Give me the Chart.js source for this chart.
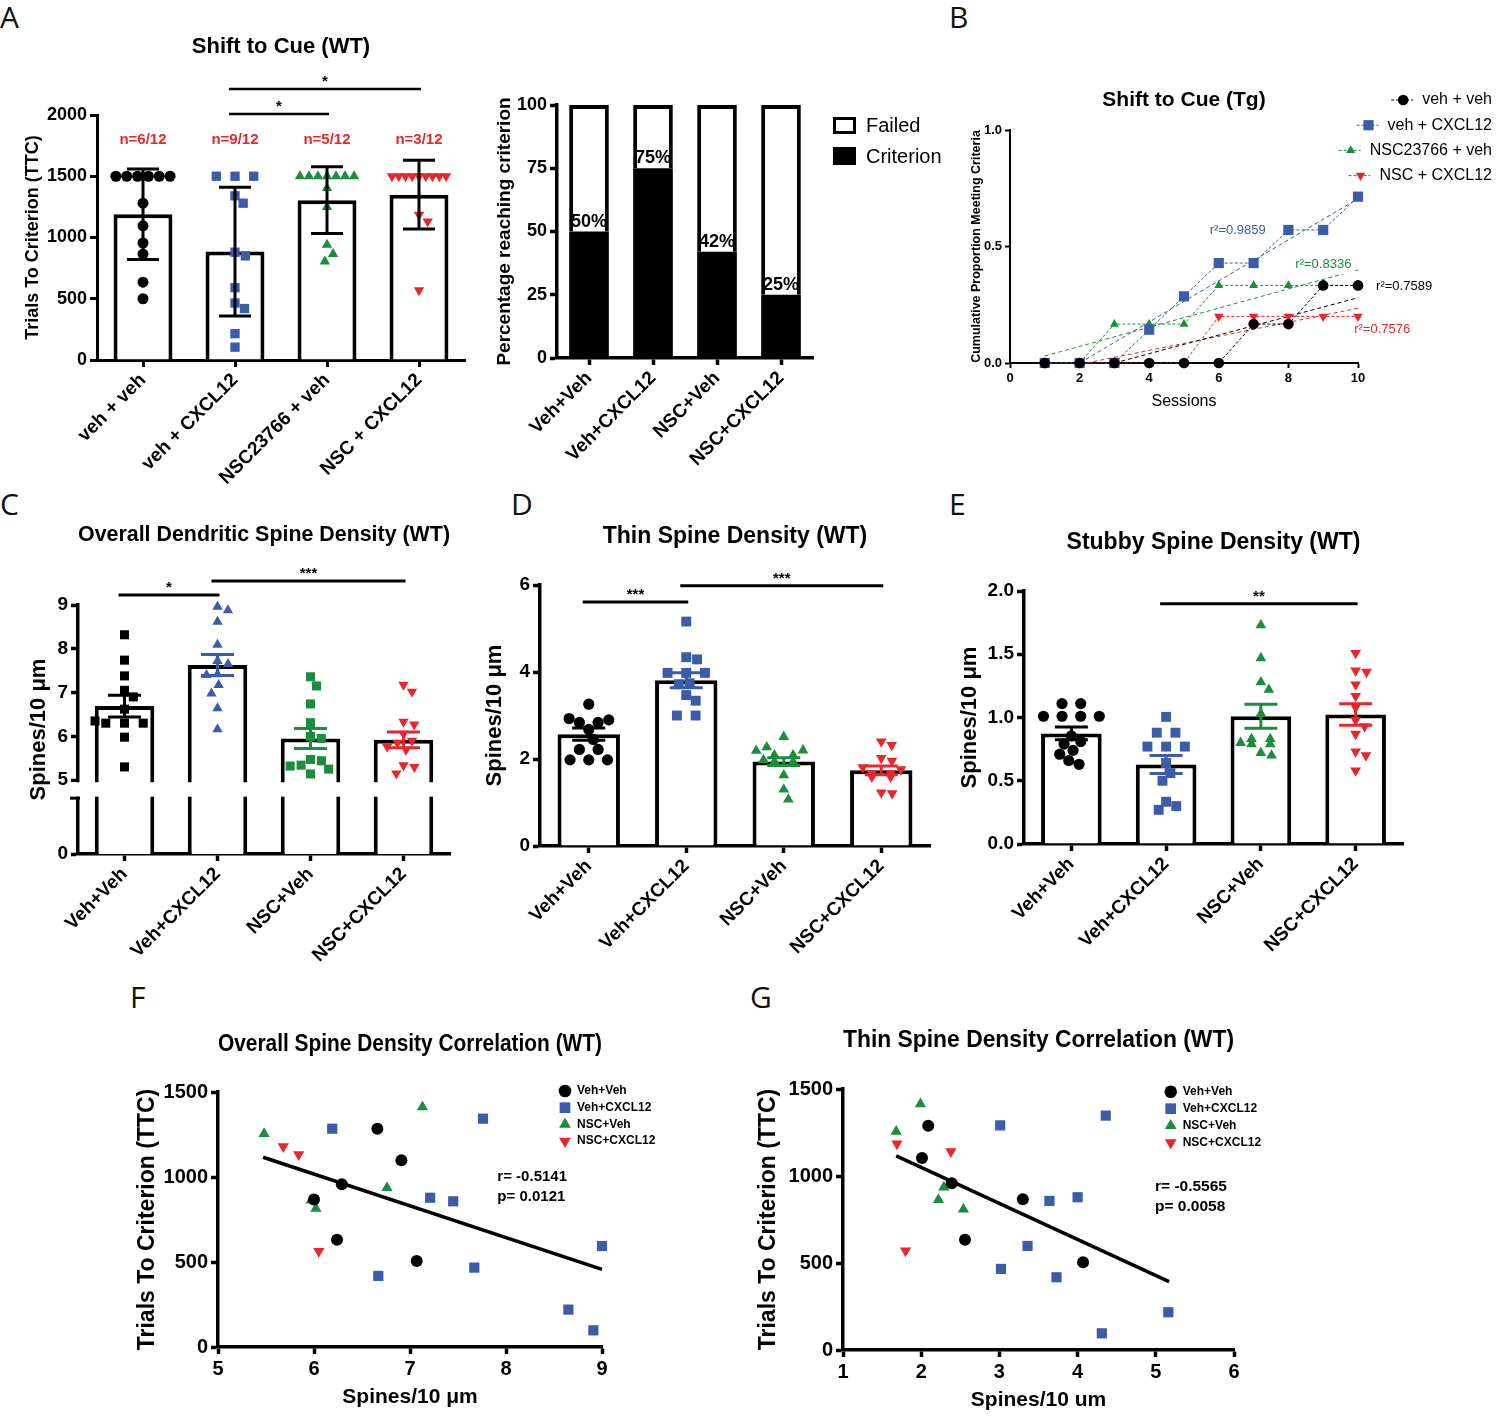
<!DOCTYPE html>
<html>
<head>
<meta charset="utf-8">
<title>Shift to cue and spine density</title>
<script src="https://cdn.jsdelivr.net/npm/chart.js@4.4.1/dist/chart.umd.min.js"></script>
<style>
  html, body { margin: 0; padding: 0; background: #fff; }
  #page { position: relative; width: 1500px; height: 1420px; overflow: hidden; background: #fff; }
  #page canvas { position: absolute; left: 0; top: 0; }
  .tag { position: absolute; font: 30px "Open Sans", "Liberation Sans", sans-serif; line-height: 30px; color: #111; }
</style>
</head>
<body>
<div id="page">
  <div class="tag" style="left:0px;top:2px">A</div>
  <div class="tag" style="left:949px;top:2px">B</div>
  <div class="tag" style="left:0px;top:489px">C</div>
  <div class="tag" style="left:511px;top:489px">D</div>
  <div class="tag" style="left:949px;top:489px">E</div>
  <div class="tag" style="left:130px;top:982px">F</div>
  <div class="tag" style="left:750px;top:982px">G</div>
  <canvas id="chartA1" width="1500" height="1420"></canvas>
  <canvas id="chartA2" width="1500" height="1420"></canvas>
  <canvas id="chartB" width="1500" height="1420"></canvas>
  <canvas id="chartC" width="1500" height="1420"></canvas>
  <canvas id="chartD" width="1500" height="1420"></canvas>
  <canvas id="chartE" width="1500" height="1420"></canvas>
  <canvas id="chartF" width="1500" height="1420"></canvas>
  <canvas id="chartG" width="1500" height="1420"></canvas>
</div>
<script>
var FONT = "'Liberation Sans', Arial, Helvetica, sans-serif";
Chart.defaults.font.family = FONT;
Chart.defaults.color = '#000';
Chart.defaults.animation = false;
Chart.defaults.responsive = false;
Chart.defaults.events = [];
Chart.defaults.plugins.legend.display = false;
Chart.defaults.plugins.tooltip.enabled = false;

var PAGE_W = 1500, PAGE_H = 1420;

// ---------- data ----------
var groupsWT = ['veh + veh', 'veh + CXCL12', 'NSC23766 + veh', 'NSC + CXCL12'];
var groups = ['Veh+Veh', 'Veh+CXCL12', 'NSC+Veh', 'NSC+CXCL12'];
var groupColors = ['#000000', '#3b5ca9', '#1b8e3e', '#e8262b'];

// A: trials to criterion (1500 = failed)
var ttcVehVeh = [1500, 1500, 1500, 1500, 1500, 1500, 1280, 1095, 955, 865, 635, 500];
var ttcVehCx = [1500, 1500, 1500, 1340, 1280, 880, 850, 590, 465, 420, 215, 105];
var ttcNscVeh = [1500, 1500, 1500, 1500, 1500, 1500, 1500, 1405, 1250, 940, 865, 805];
var ttcNscCx = [1500, 1500, 1500, 1500, 1500, 1500, 1500, 1500, 1500, 1185, 1130, 570];
var ttcMean = [1190, 885, 1305, 1350];
var ttcSd = [370, 526, 273, 281];
var ttcReached = ['n=6/12', 'n=9/12', 'n=5/12', 'n=3/12'];

// A: percentage reaching criterion
var pctCriterion = [50, 75, 42, 25];
var pctFailed = [50, 25, 58, 75];

// B: cumulative proportion, Tg
var sessions = [1, 2, 3, 4, 5, 6, 7, 8, 9, 10];
var cumVehVeh = [0, 0, 0, 0, 0, 0, 0.167, 0.167, 0.333, 0.333];
var cumVehCx = [0, 0, 0, 0.143, 0.286, 0.429, 0.429, 0.571, 0.571, 0.714];
var cumNscVeh = [0, 0, 0.167, 0.167, 0.167, 0.333, 0.333, 0.333, 0.333, 0.333];
var cumNscCx = [0, 0, 0, 0, 0, 0.2, 0.2, 0.2, 0.2, 0.2];
var fitVehVeh = [[3, 0], [10, 0.28]];
var fitVehCx = [[2, 0], [10, 0.705]];
var fitNscVeh = [[1, 0.03], [10, 0.4]];
var fitNscCx = [[2.2, 0], [10, 0.235]];
var r2Text = ['r²=0.7589', 'r²=0.9859', 'r²=0.8336', 'r²=0.7576'];

// C: overall spine density
var cVehVeh = [8.32, 7.74, 7.38, 7.05, 6.9, 6.62, 6.35, 6.3, 6.3, 6.3, 5.98, 5.3];
var cVehCx = [8.88, 8.96, 8.62, 8.09, 7.65, 7.72, 7.42, 7.4, 7.17, 6.98, 6.64, 6.16];
var cNscVeh = [7.36, 7.15, 6.74, 6.31, 5.95, 6.0, 5.34, 5.14, 5.47, 5.32, 5.25, 5.44];
var cNscCx = [7.18, 7.02, 6.27, 6.33, 6.06, 5.85, 5.76, 5.69, 5.34, 5.3, 5.15, 5.9];
var cMean = [6.69, 7.63, 5.95, 5.92];
var cSem = [0.25, 0.24, 0.23, 0.18];

// D: thin spine density
var dVehVeh = [3.26, 2.93, 2.9, 2.84, 2.84, 2.68, 2.45, 2.22, 2.22, 1.98, 1.98, 1.98];
var dVehCx = [5.16, 4.34, 4.29, 3.98, 3.98, 3.98, 3.74, 3.72, 3.47, 3.34, 3.0, 3.0];
var dNscVeh = [2.51, 2.2, 2.27, 2.19, 2.09, 2.09, 1.98, 1.94, 1.94, 1.63, 1.3, 1.07];
var dNscCx = [2.4, 2.32, 2.02, 1.96, 1.76, 1.81, 1.67, 1.59, 1.67, 1.59, 1.21, 1.23];
var dMean = [2.57, 3.81, 1.94, 1.74];
var dSem = [0.14, 0.17, 0.09, 0.1];

// E: stubby spine density
var eVehVeh = [1.11, 1.11, 1.01, 1.01, 1.01, 1.01, 0.855, 0.79, 0.81, 0.74, 0.71, 0.63, 0.66];
var eVehCx = [1.005, 0.88, 0.88, 0.77, 0.77, 0.77, 0.64, 0.56, 0.5, 0.334, 0.27, 0.3];
var eNscVeh = [1.73, 1.47, 1.28, 1.22, 1.03, 0.83, 0.83, 0.79, 0.8, 0.79, 0.7, 0.72];
var eNscCx = [1.51, 1.36, 1.37, 1.26, 1.17, 1.08, 0.98, 0.93, 0.87, 0.73, 0.7, 0.58];
var eMean = [0.874, 0.629, 1.01, 1.024];
var eSem = [0.05, 0.071, 0.095, 0.085];

// F: overall density vs TTC  [spines, trials]
var fVehVeh = [[6.0, 867], [6.29, 957], [6.24, 631], [6.66, 1284], [6.91, 1098], [7.07, 506]];
var fVehCx = [[6.19, 1284], [6.67, 418], [7.21, 878], [7.45, 857], [7.76, 1343], [7.67, 467], [8.65, 220], [8.91, 98], [9.0, 594]];
var fNscVeh = [[5.48, 1255], [5.97, 863], [6.02, 814], [6.76, 937], [7.13, 1412]];
var fNscCx = [[5.68, 1180], [5.84, 1133], [6.05, 563]];
var fFit = [[5.47, 1116], [9.0, 457]];
var fStats = ['r= -0.5141', 'p= 0.0121'];

// G: thin density vs TTC
var gVehVeh = [[2.09, 1289], [2.01, 1103], [2.39, 959], [2.56, 633], [3.3, 867], [4.07, 504]];
var gVehCx = [[3.01, 1291], [4.36, 1347], [3.64, 857], [4.0, 878], [3.36, 598], [3.02, 466], [3.73, 418], [4.31, 96], [5.16, 217]];
var gNscVeh = [[1.68, 1256], [1.99, 1414], [2.29, 936], [2.22, 863], [2.54, 809]];
var gNscCx = [[1.69, 1185], [2.38, 1141], [1.8, 570]];
var gFit = [[1.68, 1116], [5.17, 393]];
var gStats = ['r= -0.5565', 'p= 0.0058'];

// ---------- marker styles ----------
var markA = [{style: 'circle', r: 5.5}, {style: 'rect', r: 6.6}, {style: 'triangle', r: 6}, {style: 'triangle', r: 6, rot: 180}];
var markC = [{style: 'rect', r: 6.4}, {style: 'triangle', r: 6}, {style: 'rect', r: 6.4}, {style: 'triangle', r: 6, rot: 180}];
var markD = [{style: 'circle', r: 5.6}, {style: 'rect', r: 7}, {style: 'triangle', r: 6.2}, {style: 'triangle', r: 6.2, rot: 180}];
var markB = [{style: 'circle', r: 5.3}, {style: 'rect', r: 7.2}, {style: 'triangle', r: 5.2}, {style: 'triangle', r: 5.5, rot: 180}];
var markF = [{style: 'circle', r: 6}, {style: 'rect', r: 7.2}, {style: 'triangle', r: 6.5}, {style: 'triangle', r: 6.5, rot: 180}];

// ---------- helpers ----------
// padding so that the plot area lands on the wanted rectangle of the page
function frame(plot, axW, axH, title) {
  var top = plot.t, t = {display: false};
  if (title) {
    var lh = title.size * 1.2;
    top = title.y - lh / 2;
    t = {display: true, text: title.text, fullSize: false, color: '#000',
         font: {size: title.size, weight: 'bold'}, padding: {top: 0, bottom: plot.t - top - lh}};
  }
  return {
    layout: {padding: {left: plot.l - axW, top: top, right: PAGE_W - plot.r, bottom: PAGE_H - plot.b - axH}},
    title: t
  };
}

function linAxis(o) {
  var ax = {
    type: 'linear', min: o.min, max: o.max, offset: false,
    afterFit: function (s) { if (o.axW) s.width = o.axW; if (o.axH) s.height = o.axH; },
    ticks: {stepSize: o.step, autoSkip: false, padding: 3, color: '#000',
            font: {size: o.size, weight: 'bold'},
            callback: o.fmt || function (v) { return String(v); }},
    grid: {drawOnChartArea: false, tickLength: o.tick || 7, tickWidth: o.lw, color: '#000'},
    border: {color: '#000', width: o.lw},
    title: {display: !!o.title, text: o.title || '', color: '#000', padding: 0,
            font: {size: o.titleSize || 12, weight: o.titleWeight || 'bold'}}
  };
  if (o.ticksAt) {
    ax.afterBuildTicks = function (s) { s.ticks = o.ticksAt.map(function (v) { return {value: v}; }); };
  }
  return ax;
}

function groupAxis(labels, size, axH, lw) {
  return {
    type: 'category', labels: labels, offset: true,
    afterFit: function (s) { s.height = axH; },
    ticks: {font: {size: size, weight: 'bold'}, color: '#000', minRotation: 45, maxRotation: 45, autoSkip: false, padding: 2},
    grid: {offset: false, drawOnChartArea: false, tickLength: 7, tickWidth: lw, color: '#000'},
    border: {color: '#000', width: lw}
  };
}

// spread points sideways so markers do not sit on top of each other
function swarm(vals, pxPerUnit, d, span) {
  var off = [], placed = [], count = {}, seen = {};
  vals.forEach(function (v) { count[v] = (count[v] || 0) + 1; });
  vals.forEach(function (v, k) {
    if (count[v] < 2) return;
    var s = Math.min(span / (count[v] - 1), d * 1.7);
    var j = seen[v] || 0; seen[v] = j + 1;
    off[k] = (j - (count[v] - 1) / 2) * s;
    placed.push({x: off[k], y: v * pxPerUnit});
  });
  var rest = [];
  vals.forEach(function (v, k) { if (count[v] < 2) rest.push(k); });
  rest.sort(function (a, b) { return vals[b] - vals[a]; });
  rest.forEach(function (k) {
    var y = vals[k] * pxPerUnit, cand = [0];
    placed.forEach(function (q) {
      var dy = Math.abs(q.y - y);
      if (dy < d) { var dx = Math.sqrt(d * d - dy * dy); cand.push(q.x + dx, q.x - dx); }
    });
    cand.sort(function (a, b) { return Math.abs(a) - Math.abs(b); });
    var f = cand.find(function (x) {
      return placed.every(function (q) { var dx = q.x - x, dy = q.y - y; return dx * dx + dy * dy >= d * d - 0.01; });
    });
    off[k] = f === undefined ? 0 : f;
    placed.push({x: off[k], y: y});
  });
  return off;
}

function drawMark(ctx, m, x, y, color) {
  ctx.fillStyle = color;
  ctx.beginPath();
  if (m.style === 'circle') {
    ctx.arc(x, y, m.r, 0, Math.PI * 2);
  } else if (m.style === 'rect') {
    var s = m.r * Math.SQRT1_2;
    ctx.rect(x - s, y - s, 2 * s, 2 * s);
  } else {
    var dir = m.rot ? -1 : 1;
    ctx.moveTo(x, y - dir * m.r);
    ctx.lineTo(x + m.r * 0.866, y + dir * m.r * 0.5);
    ctx.lineTo(x - m.r * 0.866, y + dir * m.r * 0.5);
    ctx.closePath();
  }
  ctx.fill();
}

function errorBars(means, errs, colors, cap, lw) {
  return {id: 'errorBars', afterDatasetsDraw: function (chart) {
    var ctx = chart.ctx, xs = chart.scales.x, ys = chart.scales.y;
    ctx.save();
    ctx.lineWidth = lw;
    means.forEach(function (m, i) {
      var x = xs.getPixelForValue(i), lo = ys.getPixelForValue(m - errs[i]), hi = ys.getPixelForValue(m + errs[i]);
      ctx.strokeStyle = colors[i];
      ctx.beginPath();
      ctx.moveTo(x, lo); ctx.lineTo(x, hi);
      ctx.moveTo(x - cap / 2, lo); ctx.lineTo(x + cap / 2, lo);
      ctx.moveTo(x - cap / 2, hi); ctx.lineTo(x + cap / 2, hi);
      ctx.stroke();
    });
    ctx.restore();
  }};
}

function sigBars(list, size, lw) {
  return {id: 'sigBars', afterDraw: function (chart) {
    var ctx = chart.ctx, xs = chart.scales.x, ys = chart.scales.y;
    ctx.save();
    ctx.strokeStyle = '#000'; ctx.fillStyle = '#000'; ctx.lineWidth = lw;
    ctx.font = 'bold ' + size + 'px ' + FONT;
    ctx.textAlign = 'center'; ctx.textBaseline = 'alphabetic';
    list.forEach(function (s) {
      var x0 = xs.getPixelForValue(s.from) - 6, x1 = xs.getPixelForValue(s.to) + 2, y = ys.getPixelForValue(s.y);
      ctx.beginPath(); ctx.moveTo(x0, y); ctx.lineTo(x1, y); ctx.stroke();
      ctx.fillText(s.text, (x0 + x1) / 2, y - 3);
    });
    ctx.restore();
  }};
}

function textLayer(id, items) {
  return {id: id, afterDraw: function (chart) {
    var ctx = chart.ctx, xs = chart.scales.x, ys = chart.scales.y;
    ctx.save();
    items.forEach(function (t) {
      var x = xs.getPixelForValue(t.x), y = ys.getPixelForValue(t.y) + (t.dy || 0);
      ctx.font = t.font;
      ctx.textAlign = t.align || 'center';
      ctx.textBaseline = t.baseline || 'middle';
      if (t.bg) {
        var w = ctx.measureText(t.text).width;
        ctx.fillStyle = '#fff';
        ctx.fillRect(x - 2, y - 9, w + 4, 18);
      }
      ctx.fillStyle = t.color || '#000';
      ctx.fillText(t.text, x, y);
    });
    ctx.restore();
  }};
}

// bar = mean, dots = animals, error bar, significance lines
function dotBar(id, c) {
  var p = c.plot, n = c.labels.length;
  var catW = (p.r - p.l) / n;
  var pxU = (p.b - p.t) / (c.max - c.min);
  var axW = p.l - c.yTitleX + 0.6 * c.yTitleSize;
  var f = frame(p, axW, c.axH || 130, c.title);
  var ds = [{
    type: 'bar', data: c.means, xAxisID: 'x', yAxisID: 'y', order: 3, grouped: false,
    backgroundColor: '#fff', borderColor: '#000', borderWidth: c.barLine || 4,
    barPercentage: c.barPct || 0.64, categoryPercentage: 1
  }];
  c.points.forEach(function (vals, i) {
    var off = swarm(vals, pxU, c.dot || 11, catW * (c.barPct || 0.64) * 0.92);
    var m = c.marks[i];
    ds.push({
      type: 'scatter', xAxisID: 'x2', yAxisID: 'y', order: 2, clip: false,
      data: vals.map(function (v, k) { return {x: i + off[k] / catW, y: v}; }),
      pointStyle: m.style, pointRotation: m.rot || 0, pointRadius: m.r, pointHoverRadius: m.r,
      pointBackgroundColor: groupColors[i], backgroundColor: groupColors[i], pointBorderWidth: 0
    });
  });
  var yOpt = {min: c.min, max: c.max, step: c.step, size: c.tickSize, lw: c.axisLine, axW: axW,
              title: c.yTitle, titleSize: c.yTitleSize, fmt: c.fmt, ticksAt: c.ticksAt};
  return new Chart(document.getElementById(id), {
    type: 'bar',
    data: {labels: c.labels, datasets: ds},
    options: {
      layout: f.layout,
      plugins: {title: f.title},
      scales: {
        x: groupAxis(c.labels, c.labelSize, c.axH || 130, c.axisLine),
        x2: {type: 'linear', display: false, min: -0.5, max: n - 0.5, offset: false},
        y: linAxis(yOpt)
      }
    },
    plugins: [errorBars(c.means, c.errs, c.errColors, c.cap || 33, c.errLine || 3),
              sigBars(c.sigs, c.starSize || 15, c.sigLine || 3)].concat(c.extra || [])
  });
}

// ---------- A (left): trials to criterion ----------
dotBar('chartA1', {
  plot: {l: 97, r: 465, t: 115, b: 360}, min: 0, max: 2000, step: 500,
  title: {text: 'Shift to Cue (WT)', size: 22, y: 47},
  yTitle: 'Trials To Criterion (TTC)', yTitleSize: 18, yTitleX: 33,
  tickSize: 18, labelSize: 19, labels: groupsWT, axisLine: 3, barLine: 4,
  means: ttcMean, errs: ttcSd, errColors: ['#000', '#000', '#000', '#000'], cap: 32,
  points: [ttcVehVeh, ttcVehCx, ttcNscVeh, ttcNscCx], marks: markA,
  sigs: [{from: 1, to: 2, y: 2008, text: '*'}, {from: 1, to: 3, y: 2212, text: '*'}], sigLine: 2.5,
  extra: [textLayer('reached', ttcReached.map(function (t, i) {
    return {text: t, x: i, y: 1795, font: 'bold 15px ' + FONT, color: '#e8262b'};
  }))]
});

// ---------- A (right): percentage reaching criterion ----------
(function () {
  var p = {l: 557, r: 813, t: 105, b: 358};
  var axW = p.l - 505 + 0.6 * 19;
  var f = frame(p, axW, 130, null);
  var legendA2 = {id: 'legendA2', afterDraw: function (chart) {
    var ctx = chart.ctx, a = chart.chartArea;
    ctx.save();
    ctx.lineWidth = 3; ctx.strokeStyle = '#000';
    ctx.fillStyle = '#fff';
    ctx.fillRect(a.right + 21.5, a.top + 13.5, 20, 14);
    ctx.strokeRect(a.right + 21.5, a.top + 13.5, 20, 14);
    ctx.fillStyle = '#000';
    ctx.fillRect(a.right + 20, a.top + 42, 23, 18);
    ctx.font = '20px ' + FONT; ctx.textAlign = 'left'; ctx.textBaseline = 'middle';
    ctx.fillText('Failed', a.right + 53, a.top + 21);
    ctx.fillText('Criterion', a.right + 53, a.top + 52);
    ctx.restore();
  }};
  new Chart(document.getElementById('chartA2'), {
    type: 'bar',
    data: {
      labels: groups,
      datasets: [
        {label: 'Criterion', data: pctCriterion, backgroundColor: '#000', borderColor: '#000', borderWidth: 0,
         barPercentage: 0.62, categoryPercentage: 1},
        {label: 'Failed', data: pctFailed, backgroundColor: '#fff', borderColor: '#000', borderWidth: 4,
         borderSkipped: 'start', barPercentage: 0.62, categoryPercentage: 1}
      ]
    },
    options: {
      layout: f.layout,
      plugins: {title: f.title},
      scales: {
        x: Object.assign(groupAxis(groups, 19, 130, 3.5), {stacked: true}),
        y: Object.assign(linAxis({min: 0, max: 100, step: 25, size: 18, lw: 3.5, axW: axW,
                                  title: 'Percentage reaching criterion', titleSize: 19}), {stacked: true})
      }
    },
    plugins: [legendA2, textLayer('pct', pctCriterion.map(function (v, i) {
      return {text: v + '%', x: i, y: v, dy: -5, baseline: 'alphabetic', font: 'bold 18px ' + FONT};
    }))]
  });
})();

// ---------- B: shift to cue, Tg ----------
(function () {
  var p = {l: 1010, r: 1358, t: 130, b: 363};
  var axW = p.l - 977 + 0.6 * 12.5;
  var axH = 402 + 0.6 * 16 - p.b;
  var f = frame(p, axW, axH, {text: 'Shift to Cue (Tg)', size: 21, y: 100});
  var series = [cumVehVeh, cumVehCx, cumNscVeh, cumNscCx];
  var fits = [fitVehVeh, fitVehCx, fitNscVeh, fitNscCx];
  var ds = series.map(function (vals, i) {
    var m = markB[i];
    return {
      label: groupsWT[i], showLine: true, clip: false,
      data: sessions.map(function (s, k) { return {x: s, y: vals[k]}; }),
      borderColor: groupColors[i], borderWidth: 1, borderDash: [3, 2],
      pointStyle: m.style, pointRotation: m.rot || 0, pointRadius: m.r, pointHoverRadius: m.r,
      pointBackgroundColor: groupColors[i], pointBorderWidth: 0
    };
  });
  fits.forEach(function (ln, i) {
    ds.push({
      showLine: true, clip: false, pointRadius: 0,
      data: ln.map(function (q) { return {x: q[0], y: q[1]}; }),
      borderColor: groupColors[i], borderWidth: 1, borderDash: [4, 3]
    });
  });
  var legendB = {id: 'legendB', afterDraw: function (chart) {
    var ctx = chart.ctx, a = chart.chartArea;
    ctx.save();
    ctx.font = '16px ' + FONT; ctx.textAlign = 'right'; ctx.textBaseline = 'middle';
    groupsWT.forEach(function (name, i) {
      var y = a.top - 30 + i * 25.2, xr = a.right + 134;
      var mx = xr - ctx.measureText(name).width - 19;
      ctx.strokeStyle = groupColors[i]; ctx.lineWidth = 1; ctx.setLineDash([3, 2]);
      ctx.beginPath(); ctx.moveTo(mx - 12, y); ctx.lineTo(mx + 10, y); ctx.stroke();
      ctx.setLineDash([]);
      drawMark(ctx, markB[i], mx, y, groupColors[i]);
      ctx.fillStyle = '#000';
      ctx.fillText(name, xr, y);
    });
    ctx.restore();
  }};
  var r2 = textLayer('r2', [
    {text: r2Text[1], x: 5.74, y: 0.567, align: 'left', font: '13px ' + FONT, color: groupColors[1]},
    {text: r2Text[2], x: 8.2, y: 0.421, align: 'left', font: '13px ' + FONT, color: groupColors[2], bg: true},
    {text: r2Text[0], x: 10.52, y: 0.328, align: 'left', font: '13px ' + FONT, color: groupColors[0]},
    {text: r2Text[3], x: 9.89, y: 0.143, align: 'left', font: '13px ' + FONT, color: groupColors[3]}
  ]);
  new Chart(document.getElementById('chartB'), {
    type: 'scatter',
    data: {datasets: ds},
    options: {
      layout: f.layout,
      plugins: {title: f.title},
      scales: {
        x: linAxis({min: 0, max: 10, step: 2, size: 13, lw: 2, tick: 5, axH: axH,
                    title: 'Sessions', titleSize: 16, titleWeight: 'normal'}),
        y: linAxis({min: 0, max: 1, step: 0.5, size: 13, lw: 2, tick: 5, axW: axW,
                    title: 'Cumulative Proportion Meeting Criteria', titleSize: 12.5,
                    fmt: function (v) { return v.toFixed(1); }})
      }
    },
    plugins: [r2, legendB]
  });
})();

// ---------- C: overall spine density (broken axis) ----------
var cAxisMin = 3.31;
var cBreak = [4.95, 4.62];
var axisBreakC = {id: 'axisBreak', afterDraw: function (chart) {
  var ctx = chart.ctx, a = chart.chartArea, ys = chart.scales.y;
  var y0 = ys.getPixelForValue(cBreak[0]), y1 = ys.getPixelForValue(cBreak[1]);
  ctx.save();
  ctx.fillStyle = '#fff';
  ctx.fillRect(a.left - 8, y0, a.right - a.left + 16, y1 - y0);
  ctx.strokeStyle = '#000'; ctx.lineWidth = 3;
  ctx.beginPath(); ctx.moveTo(a.left - 8, y1 + 1.5); ctx.lineTo(a.left + 2, y1 + 1.5); ctx.stroke();
  ctx.restore();
}};
dotBar('chartC', {
  plot: {l: 78, r: 450, t: 605, b: 854}, min: cAxisMin, max: 9,
  ticksAt: [cAxisMin, 5, 6, 7, 8, 9],
  fmt: function (v) { return v === cAxisMin ? '0' : String(v); },
  title: {text: 'Overall Dendritic Spine Density (WT)', size: 22.5, y: 535},
  yTitle: 'Spines/10 μm', yTitleSize: 22, yTitleX: 39,
  tickSize: 19, labelSize: 19, labels: groups, axisLine: 3.5,
  means: cMean, errs: cSem, errColors: groupColors,
  points: [cVehVeh, cVehCx, cNscVeh, cNscCx], marks: markC,
  sigs: [{from: 0, to: 1, y: 9.23, text: '*'}, {from: 1, to: 3, y: 9.55, text: '***'}],
  extra: [axisBreakC]
});

// ---------- D: thin spine density ----------
dotBar('chartD', {
  plot: {l: 540, r: 930, t: 585, b: 846}, min: 0, max: 6, step: 2,
  title: {text: 'Thin Spine Density (WT)', size: 23, y: 537},
  yTitle: 'Spines/10 μm', yTitleSize: 22, yTitleX: 495,
  tickSize: 19, labelSize: 19, labels: groups, axisLine: 3.5,
  means: dMean, errs: dSem, errColors: groupColors,
  points: [dVehVeh, dVehCx, dNscVeh, dNscCx], marks: markD,
  sigs: [{from: 0, to: 1, y: 5.61, text: '***'}, {from: 1, to: 3, y: 5.98, text: '***'}]
});

// ---------- E: stubby spine density ----------
dotBar('chartE', {
  plot: {l: 1024, r: 1403, t: 591, b: 844}, min: 0, max: 2, step: 0.5,
  fmt: function (v) { return v.toFixed(1); },
  title: {text: 'Stubby Spine Density (WT)', size: 23, y: 543},
  yTitle: 'Spines/10 μm', yTitleSize: 22, yTitleX: 970,
  tickSize: 19, labelSize: 19, labels: groups, axisLine: 3.5,
  means: eMean, errs: eSem, errColors: groupColors,
  points: [eVehVeh, eVehCx, eNscVeh, eNscCx], marks: markD,
  sigs: [{from: 1, to: 3, y: 1.9, text: '**'}]
});

// ---------- F, G: correlations ----------
function corrChart(id, c) {
  var p = c.plot;
  var axW = p.l - c.yTitleX + 0.6 * 23;
  var axH = c.xTitleY + 0.6 * 21 - p.b;
  var f = frame(p, axW, axH, c.title);
  var ds = c.sets.map(function (pts, i) {
    var m = markF[i];
    return {
      label: groups[i], clip: false,
      data: pts.map(function (q) { return {x: q[0], y: q[1]}; }),
      pointStyle: m.style, pointRotation: m.rot || 0, pointRadius: m.r, pointHoverRadius: m.r,
      pointBackgroundColor: groupColors[i], backgroundColor: groupColors[i], pointBorderWidth: 0
    };
  });
  ds.push({
    showLine: true, clip: false, pointRadius: 0, borderColor: '#000', borderWidth: 3.5,
    data: c.fit.map(function (q) { return {x: q[0], y: q[1]}; })
  });
  var legend = {id: 'corrLegend', afterDraw: function (chart) {
    var ctx = chart.ctx, a = chart.chartArea;
    ctx.save();
    ctx.font = 'bold 12px ' + FONT; ctx.textAlign = 'left'; ctx.textBaseline = 'middle';
    groups.forEach(function (name, i) {
      var x = a.right + c.legend.dx, y = a.top + c.legend.dy + i * c.legend.step;
      var m = {style: markF[i].style, r: markF[i].r * 1.05, rot: markF[i].rot};
      drawMark(ctx, m, x, y, groupColors[i]);
      ctx.fillStyle = '#000';
      ctx.fillText(name, x + 12, y);
    });
    ctx.restore();
  }};
  var stats = textLayer('stats', [
    {text: c.stats[0], x: c.statsAt[0], y: c.statsAt[1], align: 'left', font: 'bold ' + c.statsSize + 'px ' + FONT},
    {text: c.stats[1], x: c.statsAt[0], y: c.statsAt[2], align: 'left', font: 'bold ' + c.statsSize + 'px ' + FONT}
  ]);
  return new Chart(document.getElementById(id), {
    type: 'scatter',
    data: {datasets: ds},
    options: {
      layout: f.layout,
      plugins: {title: f.title},
      scales: {
        x: linAxis({min: c.xMin, max: c.xMax, step: 1, size: 20, lw: 3.5, axH: axH,
                    title: c.xTitle, titleSize: 21}),
        y: linAxis({min: 0, max: 1500, step: 500, size: 20, lw: 3.5, axW: axW,
                    title: 'Trials To Criterion (TTC)', titleSize: 23})
      }
    },
    plugins: [stats, legend]
  });
}

corrChart('chartF', {
  plot: {l: 218, r: 602, t: 1092, b: 1347}, xMin: 5, xMax: 9,
  title: {text: 'Overall Spine Density Correlation (WT)', size: 23, y: 1045},
  yTitleX: 148, xTitleY: 1397, xTitle: 'Spines/10 μm',
  sets: [fVehVeh, fVehCx, fNscVeh, fNscCx], fit: fFit,
  stats: fStats, statsAt: [7.91, 1000, 882], statsSize: 15,
  legend: {dx: -37, dy: -1, step: 16.7}
});

corrChart('chartG', {
  plot: {l: 843, r: 1234, t: 1089, b: 1350}, xMin: 1, xMax: 6,
  title: {text: 'Thin Spine Density Correlation (WT)', size: 23.5, y: 1041},
  yTitleX: 769, xTitleY: 1400, xTitle: 'Spines/10 um',
  sets: [gVehVeh, gVehCx, gNscVeh, gNscCx], fit: gFit,
  stats: gStats, statsAt: [4.99, 937, 824], statsSize: 15.5,
  legend: {dx: -63.3, dy: 2.7, step: 17}
});
</script>
</body>
</html>
